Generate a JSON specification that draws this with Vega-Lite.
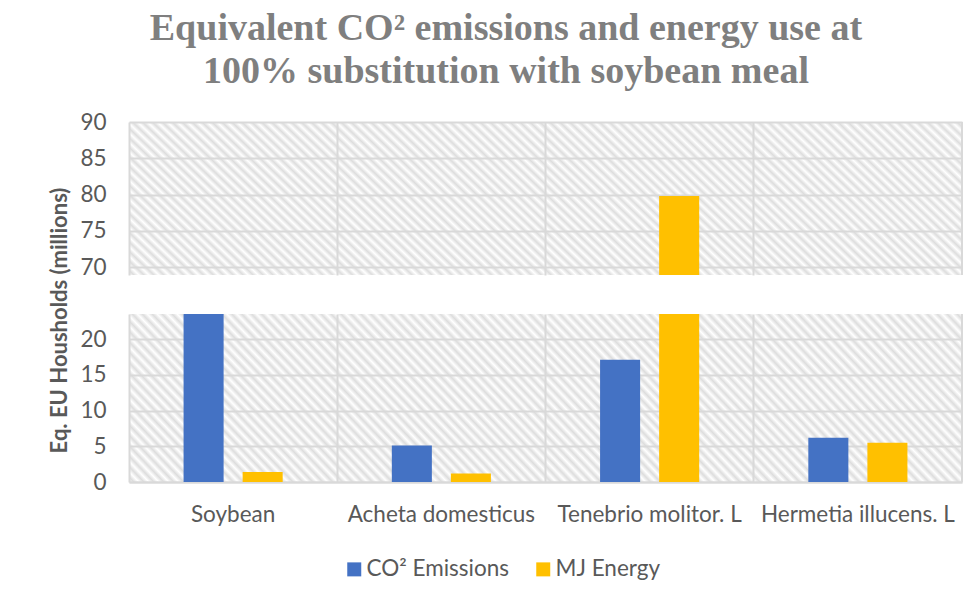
{
  "$schema": "https://vega.github.io/schema/vega-lite/v6.json",
  "padding": {"left": 48, "top": 10, "right": 17, "bottom": 5},
  "background": "white",
  "data": {"values": [
    {"cat": "Soybean", "series": "CO² Emissions", "value": 23.5},
    {"cat": "Soybean", "series": "MJ Energy", "value": 1.4},
    {"cat": "Acheta domesticus", "series": "CO² Emissions", "value": 5.1},
    {"cat": "Acheta domesticus", "series": "MJ Energy", "value": 1.2},
    {"cat": "Tenebrio molitor. L", "series": "CO² Emissions", "value": 17.1},
    {"cat": "Tenebrio molitor. L", "series": "MJ Energy", "value": 79.8},
    {"cat": "Hermetia illucens. L", "series": "CO² Emissions", "value": 6.2},
    {"cat": "Hermetia illucens. L", "series": "MJ Energy", "value": 5.5}
  ]},
  "title": {
    "text": ["Equivalent CO² emissions and energy use at", "100% substitution with soybean meal"],
    "font": "Liberation Serif", "fontSize": 38, "fontWeight": "bold", "color": "#7f7f7f",
    "lineHeight": 43, "anchor": "middle", "offset": 20
  },
  "bounds": "flush",
  "spacing": 39,
  "resolve": {"scale": {"color": "independent"}, "legend": {"color": "independent"}},
  "vconcat": [
    {
      "width": 833, "height": 153,
      "layer": [
        {
          "mark": {"type": "bar", "clip": true},
          "encoding": {
            "x": {"field": "cat", "type": "nominal", "sort": null, "scale": {"paddingInner": 0, "paddingOuter": 0},
                  "axis": {"title": null, "labels": false, "grid": true, "bandPosition": 0}},
            "xOffset": {"field": "series", "type": "nominal", "sort": null, "scale": {"paddingInner": 0.322, "paddingOuter": 0.924}},
            "y": {"field": "value", "type": "quantitative", "scale": {"domain": [68.9, 90], "nice": false, "zero": false},
                  "axis": {"title": null, "values": [70, 75, 80, 85, 90], "labelFontSize": 22.5, "labelPadding": 23}},
            "color": {"field": "series", "type": "nominal", "sort": null, "scale": {"range": ["#4472C4", "#FFC000"]}, "legend": null}
          }
        },
        {
          "transform": [{"filter": "datum.cat === 'Hermetia illucens. L' && datum.series === 'MJ Energy'"}],
          "mark": {"type": "rule", "color": "#d9d9d9", "strokeWidth": 2},
          "encoding": {
            "x": {"field": "cat", "type": "nominal", "sort": null, "bandPosition": 1,
                  "axis": {"title": null, "labels": false, "grid": true, "bandPosition": 0}}
          }
        }
      ]
    },
    {
      "width": 833, "height": 168,
      "layer": [
        {
          "mark": {"type": "bar", "clip": true},
          "encoding": {
            "x": {"field": "cat", "type": "nominal", "sort": null, "scale": {"paddingInner": 0, "paddingOuter": 0},
                  "axis": {"title": null, "labels": true, "grid": true, "bandPosition": 0, "labelAngle": 0, "labelFontSize": 22.5, "labelLimit": 0, "labelPadding": 21, "domain": true, "domainColor": "#d9d9d9", "domainWidth": 2}},
            "xOffset": {"field": "series", "type": "nominal", "sort": null, "scale": {"paddingInner": 0.322, "paddingOuter": 0.924}},
            "y": {"field": "value", "type": "quantitative", "scale": {"domain": [0, 23.5], "nice": false},
                  "axis": {"title": "Eq. EU Housholds (millions)", "values": [0, 5, 10, 15, 20], "labelFontSize": 22.5, "labelPadding": 23,
                           "titleFontSize": 22, "titleFontWeight": "bold", "titleColor": "#595959", "titlePadding": 8, "titleY": 6}},
            "color": {"field": "series", "type": "nominal", "sort": null, "scale": {"range": ["#4472C4", "#FFC000"]},
                      "legend": {"orient": "none", "legendX": 214, "legendY": 244, "direction": "horizontal", "title": null,
                                 "symbolType": "square", "symbolSize": 196, "symbolStrokeWidth": 0, "labelFontSize": 22.5,
                                 "labelColor": "#595959", "labelOffset": 1, "columnPadding": 22, "labelFont": "Lato", "labelLimit": 0}}
          }
        },
        {
          "transform": [{"filter": "datum.cat === 'Hermetia illucens. L' && datum.series === 'MJ Energy'"}],
          "mark": {"type": "rule", "color": "#d9d9d9", "strokeWidth": 2},
          "encoding": {
            "x": {"field": "cat", "type": "nominal", "sort": null, "bandPosition": 1,
                  "axis": {"title": null, "labels": true, "grid": true, "bandPosition": 0, "labelAngle": 0, "labelFontSize": 22.5, "labelLimit": 0, "labelPadding": 21, "domain": true, "domainColor": "#d9d9d9", "domainWidth": 2}}
          }
        }
      ]
    }
  ],
  "config": {
    "font": "Lato",
    "view": {
      "stroke": null,
      "fill": {
        "gradient": "linear", "x1": 0, "y1": 1, "x2": 1.15, "y2": 0.7784,
        "stops": [
          {"offset":0.00,"color":"#fff"},{"offset":0.005,"color":"#ddd"},
          {"offset":0.01,"color":"#fff"},{"offset":0.015,"color":"#ddd"},
          {"offset":0.02,"color":"#fff"},{"offset":0.025,"color":"#ddd"},
          {"offset":0.03,"color":"#fff"},{"offset":0.035,"color":"#ddd"},
          {"offset":0.04,"color":"#fff"},{"offset":0.045,"color":"#ddd"},
          {"offset":0.05,"color":"#fff"},{"offset":0.055,"color":"#ddd"},
          {"offset":0.06,"color":"#fff"},{"offset":0.065,"color":"#ddd"},
          {"offset":0.07,"color":"#fff"},{"offset":0.075,"color":"#ddd"},
          {"offset":0.08,"color":"#fff"},{"offset":0.085,"color":"#ddd"},
          {"offset":0.09,"color":"#fff"},{"offset":0.095,"color":"#ddd"},
          {"offset":0.10,"color":"#fff"},{"offset":0.105,"color":"#ddd"},
          {"offset":0.11,"color":"#fff"},{"offset":0.115,"color":"#ddd"},
          {"offset":0.12,"color":"#fff"},{"offset":0.125,"color":"#ddd"},
          {"offset":0.13,"color":"#fff"},{"offset":0.135,"color":"#ddd"},
          {"offset":0.14,"color":"#fff"},{"offset":0.145,"color":"#ddd"},
          {"offset":0.15,"color":"#fff"},{"offset":0.155,"color":"#ddd"},
          {"offset":0.16,"color":"#fff"},{"offset":0.165,"color":"#ddd"},
          {"offset":0.17,"color":"#fff"},{"offset":0.175,"color":"#ddd"},
          {"offset":0.18,"color":"#fff"},{"offset":0.185,"color":"#ddd"},
          {"offset":0.19,"color":"#fff"},{"offset":0.195,"color":"#ddd"},
          {"offset":0.20,"color":"#fff"},{"offset":0.205,"color":"#ddd"},
          {"offset":0.21,"color":"#fff"},{"offset":0.215,"color":"#ddd"},
          {"offset":0.22,"color":"#fff"},{"offset":0.225,"color":"#ddd"},
          {"offset":0.23,"color":"#fff"},{"offset":0.235,"color":"#ddd"},
          {"offset":0.24,"color":"#fff"},{"offset":0.245,"color":"#ddd"},
          {"offset":0.25,"color":"#fff"},{"offset":0.255,"color":"#ddd"},
          {"offset":0.26,"color":"#fff"},{"offset":0.265,"color":"#ddd"},
          {"offset":0.27,"color":"#fff"},{"offset":0.275,"color":"#ddd"},
          {"offset":0.28,"color":"#fff"},{"offset":0.285,"color":"#ddd"},
          {"offset":0.29,"color":"#fff"},{"offset":0.295,"color":"#ddd"},
          {"offset":0.30,"color":"#fff"},{"offset":0.305,"color":"#ddd"},
          {"offset":0.31,"color":"#fff"},{"offset":0.315,"color":"#ddd"},
          {"offset":0.32,"color":"#fff"},{"offset":0.325,"color":"#ddd"},
          {"offset":0.33,"color":"#fff"},{"offset":0.335,"color":"#ddd"},
          {"offset":0.34,"color":"#fff"},{"offset":0.345,"color":"#ddd"},
          {"offset":0.35,"color":"#fff"},{"offset":0.355,"color":"#ddd"},
          {"offset":0.36,"color":"#fff"},{"offset":0.365,"color":"#ddd"},
          {"offset":0.37,"color":"#fff"},{"offset":0.375,"color":"#ddd"},
          {"offset":0.38,"color":"#fff"},{"offset":0.385,"color":"#ddd"},
          {"offset":0.39,"color":"#fff"},{"offset":0.395,"color":"#ddd"},
          {"offset":0.40,"color":"#fff"},{"offset":0.405,"color":"#ddd"},
          {"offset":0.41,"color":"#fff"},{"offset":0.415,"color":"#ddd"},
          {"offset":0.42,"color":"#fff"},{"offset":0.425,"color":"#ddd"},
          {"offset":0.43,"color":"#fff"},{"offset":0.435,"color":"#ddd"},
          {"offset":0.44,"color":"#fff"},{"offset":0.445,"color":"#ddd"},
          {"offset":0.45,"color":"#fff"},{"offset":0.455,"color":"#ddd"},
          {"offset":0.46,"color":"#fff"},{"offset":0.465,"color":"#ddd"},
          {"offset":0.47,"color":"#fff"},{"offset":0.475,"color":"#ddd"},
          {"offset":0.48,"color":"#fff"},{"offset":0.485,"color":"#ddd"},
          {"offset":0.49,"color":"#fff"},{"offset":0.495,"color":"#ddd"},
          {"offset":0.50,"color":"#fff"},{"offset":0.505,"color":"#ddd"},
          {"offset":0.51,"color":"#fff"},{"offset":0.515,"color":"#ddd"},
          {"offset":0.52,"color":"#fff"},{"offset":0.525,"color":"#ddd"},
          {"offset":0.53,"color":"#fff"},{"offset":0.535,"color":"#ddd"},
          {"offset":0.54,"color":"#fff"},{"offset":0.545,"color":"#ddd"},
          {"offset":0.55,"color":"#fff"},{"offset":0.555,"color":"#ddd"},
          {"offset":0.56,"color":"#fff"},{"offset":0.565,"color":"#ddd"},
          {"offset":0.57,"color":"#fff"},{"offset":0.575,"color":"#ddd"},
          {"offset":0.58,"color":"#fff"},{"offset":0.585,"color":"#ddd"},
          {"offset":0.59,"color":"#fff"},{"offset":0.595,"color":"#ddd"},
          {"offset":0.60,"color":"#fff"},{"offset":0.605,"color":"#ddd"},
          {"offset":0.61,"color":"#fff"},{"offset":0.615,"color":"#ddd"},
          {"offset":0.62,"color":"#fff"},{"offset":0.625,"color":"#ddd"},
          {"offset":0.63,"color":"#fff"},{"offset":0.635,"color":"#ddd"},
          {"offset":0.64,"color":"#fff"},{"offset":0.645,"color":"#ddd"},
          {"offset":0.65,"color":"#fff"},{"offset":0.655,"color":"#ddd"},
          {"offset":0.66,"color":"#fff"},{"offset":0.665,"color":"#ddd"},
          {"offset":0.67,"color":"#fff"},{"offset":0.675,"color":"#ddd"},
          {"offset":0.68,"color":"#fff"},{"offset":0.685,"color":"#ddd"},
          {"offset":0.69,"color":"#fff"},{"offset":0.695,"color":"#ddd"},
          {"offset":0.70,"color":"#fff"},{"offset":0.705,"color":"#ddd"},
          {"offset":0.71,"color":"#fff"},{"offset":0.715,"color":"#ddd"},
          {"offset":0.72,"color":"#fff"},{"offset":0.725,"color":"#ddd"},
          {"offset":0.73,"color":"#fff"},{"offset":0.735,"color":"#ddd"},
          {"offset":0.74,"color":"#fff"},{"offset":0.745,"color":"#ddd"},
          {"offset":0.75,"color":"#fff"},{"offset":0.755,"color":"#ddd"},
          {"offset":0.76,"color":"#fff"},{"offset":0.765,"color":"#ddd"},
          {"offset":0.77,"color":"#fff"},{"offset":0.775,"color":"#ddd"},
          {"offset":0.78,"color":"#fff"},{"offset":0.785,"color":"#ddd"},
          {"offset":0.79,"color":"#fff"},{"offset":0.795,"color":"#ddd"},
          {"offset":0.80,"color":"#fff"},{"offset":0.805,"color":"#ddd"},
          {"offset":0.81,"color":"#fff"},{"offset":0.815,"color":"#ddd"},
          {"offset":0.82,"color":"#fff"},{"offset":0.825,"color":"#ddd"},
          {"offset":0.83,"color":"#fff"},{"offset":0.835,"color":"#ddd"},
          {"offset":0.84,"color":"#fff"},{"offset":0.845,"color":"#ddd"},
          {"offset":0.85,"color":"#fff"},{"offset":0.855,"color":"#ddd"},
          {"offset":0.86,"color":"#fff"},{"offset":0.865,"color":"#ddd"},
          {"offset":0.87,"color":"#fff"},{"offset":0.875,"color":"#ddd"},
          {"offset":0.88,"color":"#fff"},{"offset":0.885,"color":"#ddd"},
          {"offset":0.89,"color":"#fff"},{"offset":0.895,"color":"#ddd"},
          {"offset":0.90,"color":"#fff"},{"offset":0.905,"color":"#ddd"},
          {"offset":0.91,"color":"#fff"},{"offset":0.915,"color":"#ddd"},
          {"offset":0.92,"color":"#fff"},{"offset":0.925,"color":"#ddd"},
          {"offset":0.93,"color":"#fff"},{"offset":0.935,"color":"#ddd"},
          {"offset":0.94,"color":"#fff"},{"offset":0.945,"color":"#ddd"},
          {"offset":0.95,"color":"#fff"},{"offset":0.955,"color":"#ddd"},
          {"offset":0.96,"color":"#fff"},{"offset":0.965,"color":"#ddd"},
          {"offset":0.97,"color":"#fff"},{"offset":0.975,"color":"#ddd"},
          {"offset":0.98,"color":"#fff"},{"offset":0.985,"color":"#ddd"},
          {"offset":0.99,"color":"#fff"},{"offset":0.995,"color":"#ddd"},
          {"offset":1.00,"color":"#fff"}
        ]
      }
    },
    "axis": {
      "labelFont": "Lato", "labelColor": "#595959", "titleFont": "Lato",
      "gridColor": "#d9d9d9", "gridWidth": 2, "domain": false, "ticks": false
    }
  }
}
